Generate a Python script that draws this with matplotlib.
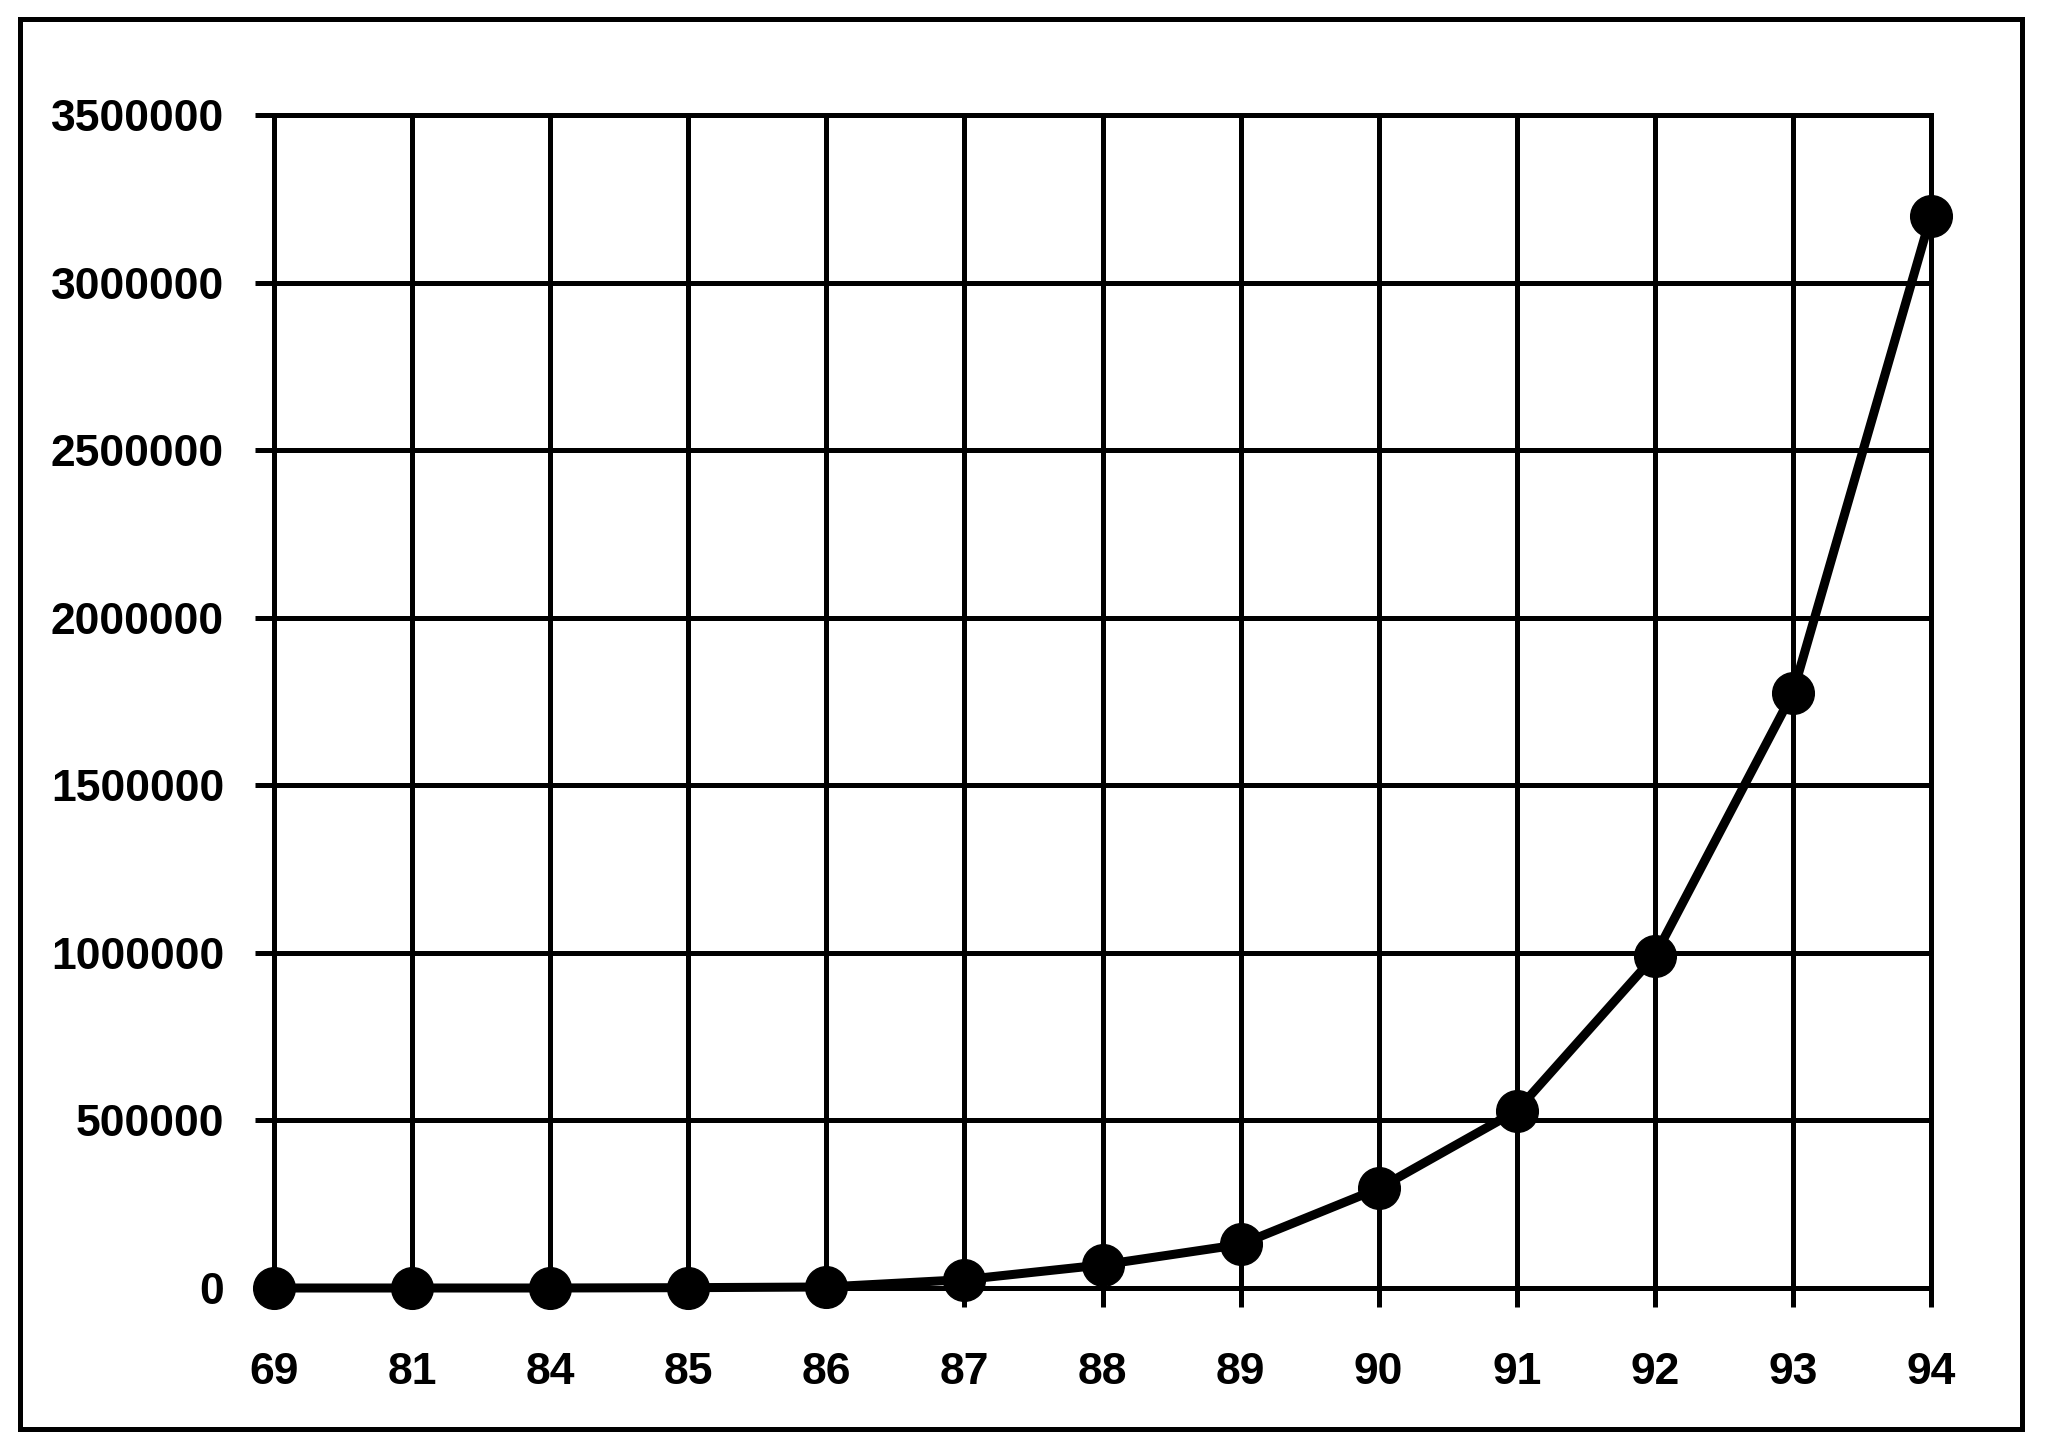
import matplotlib
matplotlib.use("Agg")
import matplotlib.pyplot as plt
from matplotlib.patches import Rectangle

# values
years = ["69", "81", "84", "85", "86", "87", "88", "89", "90", "91", "92", "93", "94"]
values = [0, 0, 0, 1000, 3000, 25000, 69000, 130000, 297000, 529000, 991000, 1776000, 3200000]
yticks = [0, 500000, 1000000, 1500000, 2000000, 2500000, 3000000, 3500000]

plt.rcParams['font.family'] = ['Liberation Sans', 'DejaVu Sans']
plt.rcParams['font.weight'] = 'bold'

fig = plt.figure(figsize=(20.48, 14.47), dpi=100)
ax = fig.add_axes([274 / 2048, 1 - 1288 / 1447, (1931 - 274) / 2048, (1288 - 115) / 1447])

x = list(range(len(years)))
ax.plot(x, values, color='black', linewidth=6.5, marker='o', markersize=30,
        markerfacecolor='black', markeredgecolor='black', zorder=3, clip_on=False)

ax.set_xlim(0, len(years) - 1)
ax.set_ylim(0, 3500000)
ax.set_xticks(x)
ax.set_xticklabels(years)
ax.set_yticks(yticks)
ax.set_yticklabels([str(v) for v in yticks])

ax.grid(True, color='black', linewidth=3.6)
ax.set_axisbelow(True)
for s in ax.spines.values():
    s.set_linewidth(3.6)
    s.set_color('black')

ax.tick_params(axis='both', direction='out', length=14, width=3.6, labelsize=32)
ax.tick_params(axis='y', pad=22)
ax.tick_params(axis='x', pad=32)

# border round the whole figure
fig.patches.append(Rectangle((19.5 / 2048, 1 - 1429 / 1447), (2022 - 19.5) / 2048, (1429 - 19) / 1447,
                             transform=fig.transFigure, fill=False, edgecolor='black', linewidth=3.6))

fig.savefig("out.png", dpi=100)
